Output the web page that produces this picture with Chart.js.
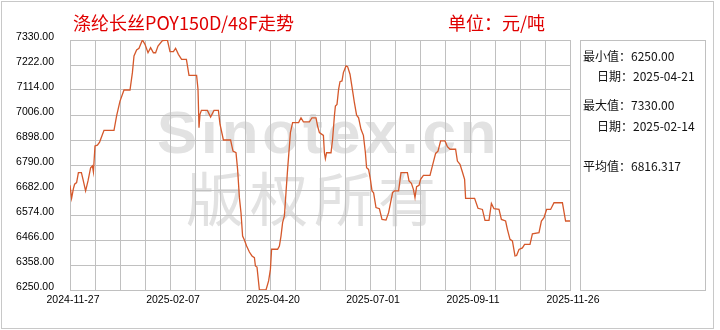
<!DOCTYPE html>
<html>
<head>
<meta charset="utf-8">
<script src="https://cdn.jsdelivr.net/npm/chart.js@4.4.1/dist/chart.umd.min.js"></script>
<style>
    body { margin: 0; background: #fff; }
    #wrap { position: relative; width: 720px; height: 330px; overflow: hidden; font-family: "Noto Sans CJK SC", sans-serif; }
    #frame { position: absolute; left: 1px; top: 1px; width: 711px; height: 326px; border: 1px solid #c8c8c8; }
    .mark { position: absolute; color: #e2e2e2; white-space: nowrap; }
    #chart { position: absolute; left: 0; top: 0; }
    .title { position: absolute; top: 13px; color: #e00000; font-size: 18px; line-height: 18px; white-space: nowrap; }
    #stats { position: absolute; left: 580px; top: 40px; width: 124px; height: 249px; border: 1px solid #c0c0c0; }
    .row { position: absolute; font-size: 12px; line-height: 12px; color: #111; white-space: nowrap; }
</style>
</head>
<body>
<div id="wrap">
    <div id="frame"></div>
    <div class="mark" style="left:157px;top:103px;font:bold 60px 'Liberation Sans';line-height:60px;letter-spacing:4px;">Sinotex.cn</div>
    <div class="mark" style="left:186px;top:167px;font-size:58px;line-height:58px;letter-spacing:6px;">版权所有</div>
    <canvas id="chart" width="720" height="330"></canvas>
    <div class="title" style="left:73px;">涤纶长丝POY150D/48F走势</div>
    <div class="title" style="left:448px;">单位：元/吨</div>
    <div id="stats"></div>
    <div class="row" id="min-val" style="left:583px;top:50px;"></div>
    <div class="row" id="min-date" style="left:597px;top:70px;"></div>
    <div class="row" id="max-val" style="left:583px;top:99px;"></div>
    <div class="row" id="max-date" style="left:597px;top:120px;"></div>
    <div class="row" id="avg-val" style="left:583px;top:160px;"></div>
</div>
<script>
// tick labels
const xLabels = ['2024-11-27', '2025-02-07', '2025-04-20', '2025-07-01', '2025-09-11', '2025-11-26'];
const xGrid = [0, 12.5, 25, 37.5, 50, 62.5, 75, 87.5, 100, 112.5, 125, 137.5, 150, 162.5, 175, 187.5, 200, 212.5, 225, 237.5, 250];
const yTicks = [6250, 6358, 6466, 6574, 6682, 6790, 6898, 7006, 7114, 7222, 7330];

// price series (position along the year, price)
const dayIndex = [
    0, 0.8, 1.7, 2.3, 3.3, 4.2, 5.7, 6.5, 7.8, 9,
    10.3, 11.2, 11.7, 12.5, 13.7, 14.8, 17, 22, 23.3, 25,
    27, 30, 31.2, 32, 33.3, 34.5, 36.2, 37.5, 39, 40.3,
    41.7, 42.8, 44, 46.2, 48.7, 50, 51.7, 52.8, 54.2, 55.8,
    58.2, 59.5, 63.3, 64, 64.5, 65, 65.7, 68.7, 70.3, 72,
    74.2, 75, 76.7, 80.3, 81.5, 83, 83.8, 84.7, 85.5, 86.3,
    87.2, 88.3, 89.7, 91, 92.2, 92.7, 93.5, 94.7, 98, 99.3,
    100.2, 100.8, 103.8, 104.7, 105.5, 106.3, 107.2, 108, 108.8, 109.7,
    110.2, 111.3, 114.3, 115.5, 116.7, 119.7, 121, 123, 123.8, 124.7,
    126.7, 127.2, 127.7, 128.3, 130.5, 131.3, 132.2, 132.7, 133.5, 134.3,
    135, 136, 136.7, 138, 138.8, 140, 141.3, 142.2, 143.3, 144.3,
    145.5, 146.7, 147.7, 148.3, 149.3, 150.2, 151, 151.8, 153, 154.7,
    156, 158, 159.3, 161.3, 162.2, 164.3, 165.5, 168.7, 169.5, 170.7,
    171.7, 172.5, 173.3, 174.5, 175.3, 176.7, 180, 181.2, 182.8, 184,
    185.3, 187.5, 188.7, 190, 192.8, 193.7, 195, 196.2, 197.3, 197.8,
    202.3, 204, 206.2, 207.5, 209.5, 210.7, 212, 214.5, 215.7, 217.8,
    218.7, 220, 221.2, 222.5, 223.3, 224.5, 226.2, 227.3, 230, 231.2,
    234.5, 235.7, 237, 238.3, 240.3, 242, 246.2, 247.8, 250
];
const price = [
    6702, 6646, 6688, 6707, 6714, 6757, 6757, 6728, 6678, 6721,
    6778, 6786, 6760, 6872, 6876, 6889, 6940, 6940, 7002, 7066,
    7114, 7114, 7189, 7261, 7287, 7294, 7330, 7311, 7275, 7297,
    7275, 7275, 7304, 7327, 7330, 7280, 7280, 7294, 7268, 7246,
    7246, 7177, 7177, 7117, 6951, 7009, 7026, 7026, 6997, 7026,
    7026, 6966, 6898, 6898, 6850, 6843, 6771, 6649, 6584, 6483,
    6466, 6440, 6414, 6397, 6390, 6354, 6349, 6250, 6250, 6289,
    6339, 6426, 6426, 6440, 6483, 6541, 6570, 6671, 6771, 6872,
    6930, 6973, 6973, 6994, 6976, 6976, 6994, 6994, 6958, 6930,
    6918, 6843, 6817, 6843, 6843, 6901, 7002, 7045, 7052, 7117,
    7150, 7153, 7189, 7218, 7215, 7182, 7110, 7059, 7005, 6994,
    6944, 6918, 6843, 6778, 6771, 6728, 6678, 6670, 6606, 6601,
    6555, 6552, 6584, 6671, 6678, 6678, 6757, 6757, 6721, 6711,
    6685, 6649, 6696, 6702, 6728, 6745, 6745, 6786, 6840, 6850,
    6894, 6894, 6869, 6858, 6858, 6807, 6793, 6760, 6728, 6646,
    6646, 6603, 6598, 6551, 6551, 6624, 6601, 6598, 6555, 6548,
    6512, 6469, 6462, 6397, 6399, 6425, 6432, 6447, 6447, 6493,
    6498, 6548, 6562, 6598, 6598, 6627, 6627, 6548, 6548
];

// summary box
const minValue = 6250.00, minDate = '2025-04-21';
const maxValue = 7330.00, maxDate = '2025-02-14';
const avgValue = 6816.317;

document.getElementById('min-val').textContent = '最小值：' + minValue.toFixed(2);
document.getElementById('min-date').textContent = '日期：' + minDate;
document.getElementById('max-val').textContent = '最大值：' + maxValue.toFixed(2);
document.getElementById('max-date').textContent = '日期：' + maxDate;
document.getElementById('avg-val').textContent = '平均值：' + avgValue.toFixed(3);

const gridColor = '#c0c0c0';
const tickFont = { family: 'Liberation Sans', size: 10.5 };

new Chart(document.getElementById('chart'), {
    type: 'line',
    data: {
        datasets: [{
            data: dayIndex.map((d, i) => ({ x: d, y: price[i] })),
            borderColor: '#d5582b',
            borderWidth: 1.3,
            pointRadius: 0,
            tension: 0,
            fill: false
        }]
    },
    options: {
        responsive: false,
        animation: false,
        layout: { padding: { left: 0, top: 40, right: 150, bottom: 0 } },
        plugins: { legend: { display: false }, tooltip: { enabled: false } },
        scales: {
            x: {
                type: 'linear',
                min: 0,
                max: 250,
                afterBuildTicks: s => { s.ticks = xGrid.map(v => ({ value: v })); },
                afterFit: s => { s.height = 40; },
                grid: { color: gridColor, drawTicks: false },
                border: { color: gridColor },
                ticks: {
                    autoSkip: false,
                    maxRotation: 0,
                    padding: 4,
                    labelOffset: 3,
                    color: '#000',
                    font: tickFont,
                    callback: (v, i) => (i % 4 === 0 ? xLabels[i / 4] : '')
                }
            },
            y: {
                min: 6250,
                max: 7330,
                afterBuildTicks: s => { s.ticks = yTicks.map(v => ({ value: v })); },
                afterFit: s => { s.width = 70; },
                grid: { color: gridColor, drawTicks: false },
                border: { color: gridColor },
                ticks: {
                    padding: 16,
                    labelOffset: -3,
                    color: '#000',
                    font: tickFont,
                    callback: v => v.toFixed(2)
                }
            }
        }
    }
});
</script>
</body>
</html>
